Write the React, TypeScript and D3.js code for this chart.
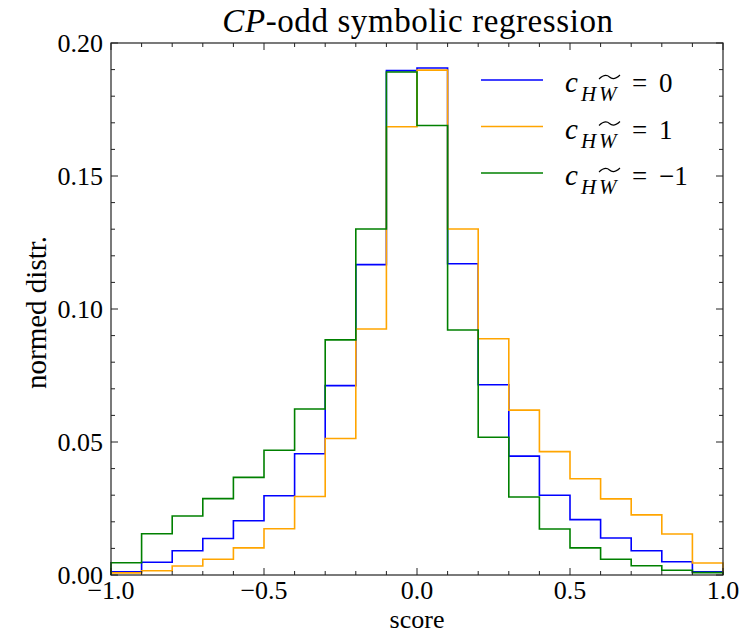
import React from "react";
import * as d3 from "d3";

const binEdges = [-1.0, -0.9, -0.8, -0.7, -0.6, -0.5, -0.4, -0.3, -0.2, -0.1, 0.0, 0.1, 0.2, 0.3, 0.4, 0.5, 0.6, 0.7, 0.8, 0.9, 1.0];
const blueVals = [0.0012, 0.0048, 0.0091, 0.0137, 0.0204, 0.0298, 0.0456, 0.0712, 0.1167, 0.1896, 0.1906, 0.117, 0.0715, 0.0447, 0.03, 0.0208, 0.0139, 0.0091, 0.005, 0.0012];
const orangeVals = [0.0008, 0.0016, 0.0034, 0.0059, 0.0102, 0.0174, 0.0295, 0.0513, 0.0925, 0.1685, 0.1898, 0.1301, 0.0888, 0.062, 0.0464, 0.0362, 0.0286, 0.0226, 0.0154, 0.0045];
const greenVals = [0.0046, 0.0155, 0.0222, 0.0287, 0.0367, 0.0469, 0.0624, 0.0884, 0.1301, 0.1891, 0.169, 0.0921, 0.0518, 0.0293, 0.0173, 0.0102, 0.0059, 0.0035, 0.0018, 0.0009];
const seriesLabels = ["0", "1", "\u22121"];
const seriesColors = ["#0000ff", "#ffa500", "#008000"];
const xMajorTicks = [-1.0, -0.5, 0.0, 0.5, 1.0];
const yMajorTicks = [0.0, 0.05, 0.1, 0.15, 0.2];

const W = 749, H = 635;
const L = 111, R = 723, T = 43, B = 575;
const FONT = "Liberation Serif";

export default function App() {
  const x = d3.scaleLinear().domain([-1, 1]).range([L, R]);
  const y = d3.scaleLinear().domain([0, 0.2]).range([B, T]);
  const series = [blueVals, orangeVals, greenVals];

  const line = d3.line<[number, number]>().x(d => x(d[0])).y(d => y(d[1])).curve(d3.curveStepAfter);
  const pathFor = (vals: number[]) => {
    const pts: [number, number][] = [[binEdges[0], 0]];
    vals.forEach((v, i) => pts.push([binEdges[i], v]));
    pts.push([binEdges[binEdges.length - 1], vals[vals.length - 1]]);
    pts.push([binEdges[binEdges.length - 1], 0]);
    return line(pts) || "";
  };

  const xMinor = d3.range(-10, 11).map(i => i / 10).filter(v => !xMajorTicks.some(m => Math.abs(m - v) < 1e-9));
  const yMinor = d3.range(0, 21).map(i => i / 100).filter(v => !yMajorTicks.some(m => Math.abs(m - v) < 1e-9));
  const fmt = (v: number, d: number) => (v < 0 ? "\u2212" : "") + Math.abs(v).toFixed(d);
  const major = 7, minor = 4;
  const tickColor = "#222";
  const txt = { fontFamily: FONT, fill: "#000" } as React.CSSProperties;

  return (
    <svg width={W} height={H} style={{ display: "block", position: "absolute", left: 0, top: 0 }}>
      <rect width={W} height={H} fill="white" />
      {series.map((vals, i) => (
        <path key={i} d={pathFor(vals)} fill="none" stroke={seriesColors[i]} strokeWidth={1.6} />
      ))}
      {xMajorTicks.map(v => (
        <g key={"xM" + v}>
          <line x1={x(v)} x2={x(v)} y1={B} y2={B - major} stroke={tickColor} />
          <line x1={x(v)} x2={x(v)} y1={T} y2={T + major} stroke={tickColor} />
          <text x={x(v)} y={599} textAnchor="middle" fontSize={26} style={txt}>{fmt(v, 1)}</text>
        </g>
      ))}
      {xMinor.map(v => (
        <g key={"xm" + v}>
          <line x1={x(v)} x2={x(v)} y1={B} y2={B - minor} stroke={tickColor} />
          <line x1={x(v)} x2={x(v)} y1={T} y2={T + minor} stroke={tickColor} />
        </g>
      ))}
      {yMajorTicks.map(v => (
        <g key={"yM" + v}>
          <line x1={L} x2={L + major} y1={y(v)} y2={y(v)} stroke={tickColor} />
          <line x1={R} x2={R - major} y1={y(v)} y2={y(v)} stroke={tickColor} />
          <text x={L - 8} y={y(v) + 9} textAnchor="end" fontSize={26} style={txt}>{fmt(v, 2)}</text>
        </g>
      ))}
      {yMinor.map(v => (
        <g key={"ym" + v}>
          <line x1={L} x2={L + minor} y1={y(v)} y2={y(v)} stroke={tickColor} />
          <line x1={R} x2={R - minor} y1={y(v)} y2={y(v)} stroke={tickColor} />
        </g>
      ))}
      <rect x={L} y={T} width={R - L} height={B - T} fill="none" stroke={tickColor} strokeWidth={1.2} />
      <text x={418} y={32} textAnchor="middle" fontSize={33} letterSpacing={0.6} style={txt}>
        <tspan fontStyle="italic">CP</tspan>-odd symbolic regression
      </text>
      <text x={(L + R) / 2} y={628} textAnchor="middle" fontSize={26} style={txt}>score</text>
      <text transform={`translate(46,${(228 + 397) / 2}) rotate(-90)`} textAnchor="middle" fontSize={29} style={txt}>normed distr.</text>
      {seriesLabels.map((lab, i) => {
        const ly = 80 + i * 46.5;
        const tx = 599, tw = 21, ty = ly - 3;
        const tilde = `M${tx},${ty + 2} C${tx + tw * 0.25},${ty - 3} ${tx + tw * 0.4},${ty - 2} ${tx + tw * 0.5},${ty} S${tx + tw * 0.75},${ty + 3} ${tx + tw},${ty - 2}`;
        return (
          <g key={"lg" + i}>
            <line x1={481} x2={543} y1={ly} y2={ly} stroke={seriesColors[i]} strokeWidth={1.6} />
            <text y={ly + 12} fontSize={27} style={txt}>
              <tspan x={565} fontStyle="italic" fontSize={29}>c</tspan>
              <tspan x={581} dy={9} fontStyle="italic" fontSize={21}>H</tspan>
              <tspan x={599} fontStyle="italic" fontSize={21}>W</tspan>
              <tspan x={632} dy={-9}>=</tspan>
              <tspan x={659}>{lab}</tspan>
            </text>
            <path d={tilde} fill="none" stroke="#000" strokeWidth={1.1} />
          </g>
        );
      })}
    </svg>
  );
}
